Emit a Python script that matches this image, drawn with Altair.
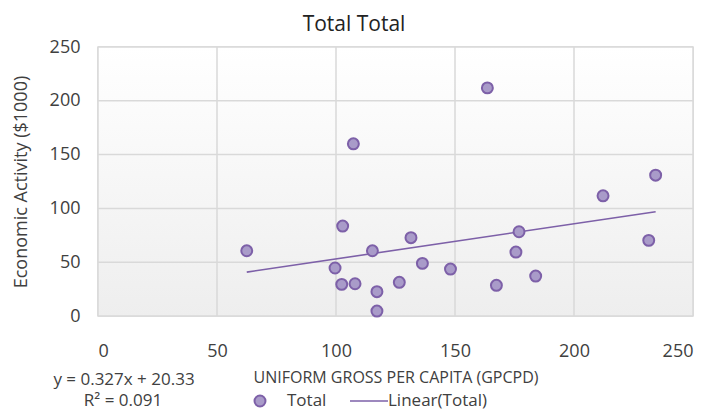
import altair as alt
import pandas as pd

# Data
gpcpd = [62.5, 107.3, 102.8, 115.3, 131.5, 99.6, 102.4, 108.0, 117.2, 117.2,
         126.6, 136.3, 148.1, 163.6, 167.4, 176.9, 175.6, 183.9, 212.2, 234.3, 231.4]
activity = [60.6, 160.0, 83.6, 60.6, 72.8, 44.6, 29.4, 30.0, 22.6, 4.6,
            31.3, 48.9, 43.6, 212.0, 28.5, 78.3, 59.4, 37.1, 111.7, 130.9, 70.3]
slope = 0.327
intercept = 20.33
x_ticks = [0, 50, 100, 150, 200, 250]
y_ticks = [0, 50, 100, 150, 200, 250]
title_text = "Total Total"
eq_text = "y = 0.327x + 20.33"
r2_text = "R\u00b2 = 0.091"

W, H = 595, 269
FONT = "Open Sans"
PT_FILL = "#a99bc9"
PT_STROKE = "#7d60a8"
GRID = "#d9d9d9"
TXT = "#404040"

df = pd.DataFrame({"x": gpcpd, "y": activity})
xl = [min(gpcpd), max(gpcpd)]
line_df = pd.DataFrame({"x": xl, "y": [slope * v + intercept for v in xl]})

xs = alt.Scale(domain=[0, 250], nice=False)
ys = alt.Scale(domain=[0, 250], nice=False)

bg = alt.Chart(alt.Data(values=[{}])).mark_rect(
    color=alt.LinearGradient(
        gradient="linear",
        stops=[alt.GradientStop(color="#ffffff", offset=0),
               alt.GradientStop(color="#eeeeee", offset=1)],
        x1=0, x2=0, y1=0, y2=1)
).encode(x=alt.value(0), x2=alt.value(W), y=alt.value(0), y2=alt.value(H))

vgrid = alt.Chart(pd.DataFrame({"t": x_ticks})).mark_rule(
    color=GRID, strokeWidth=1.5).encode(x=alt.X("t:Q", scale=xs))
hgrid = alt.Chart(pd.DataFrame({"t": y_ticks})).mark_rule(
    color=GRID, strokeWidth=1.5).encode(y=alt.Y("t:Q", scale=ys))

points = alt.Chart(df).mark_point(
    shape="circle", filled=True, size=120, fill=PT_FILL, stroke=PT_STROKE,
    strokeWidth=2, opacity=1
).encode(
    x=alt.X("x:Q", scale=xs, axis=alt.Axis(
        values=x_ticks, title="UNIFORM GROSS PER CAPITA (GPCPD)",
        labelFontSize=18, titleFontSize=16, labelPadding=26,
        titleY=61, titleBaseline="middle", titleFontWeight="normal")),
    y=alt.Y("y:Q", scale=ys, axis=alt.Axis(
        values=y_ticks, title="Economic Activity ($1000)",
        labelFontSize=18, titleFontSize=18, labelPadding=18,
        titleX=-77, titleY=H / 2, titleBaseline="middle", titleAlign="center",
        titleFontWeight="normal")),
)

trend = alt.Chart(line_df).mark_line(color=PT_STROKE, strokeWidth=1.6).encode(
    x=alt.X("x:Q", scale=xs), y=alt.Y("y:Q", scale=ys))

def txt(s, x, y, size=18, align="center"):
    return alt.Chart(alt.Data(values=[{}])).mark_text(
        text=s, fontSize=size, font=FONT, color=TXT, align=align,
        baseline="middle").encode(x=alt.value(x), y=alt.value(y))

title = alt.Chart(alt.Data(values=[{}])).mark_text(
    text=title_text, fontSize=21, font=FONT, color="#222222",
    align="center", baseline="middle").encode(x=alt.value(256), y=alt.value(-22))

eq = txt(eq_text, 26, 333, 17)
r2 = txt(r2_text, 25, 354, 17)

leg_pt = alt.Chart(alt.Data(values=[{}])).mark_point(
    shape="circle", filled=True, size=120, fill=PT_FILL, stroke=PT_STROKE,
    strokeWidth=2, opacity=1).encode(x=alt.value(162), y=alt.value(354))
leg_t1 = txt("Total", 189, 354, 17, "left")
leg_line = alt.Chart(alt.Data(values=[{}])).mark_rule(
    color=PT_STROKE, strokeWidth=1.6).encode(
    x=alt.value(252), x2=alt.value(290), y=alt.value(354))
leg_t2 = txt("Linear(Total)", 290, 354, 17, "left")

chart = alt.layer(
    bg, vgrid, hgrid, trend, points, title, eq, r2, leg_pt, leg_t1, leg_line, leg_t2
).properties(
    width=W, height=H,
    autosize=alt.AutoSizeParams(type="none"),
    padding={"left": 90, "top": 39, "right": 9, "bottom": 95},
).configure_view(
    stroke=GRID, strokeWidth=1.5
).configure_axis(
    grid=False, domain=False, ticks=False,
    labelFont=FONT, titleFont=FONT, labelColor=TXT, titleColor=TXT,
)

chart.save("out.html", embed_options={"renderer": "svg", "actions": False})
